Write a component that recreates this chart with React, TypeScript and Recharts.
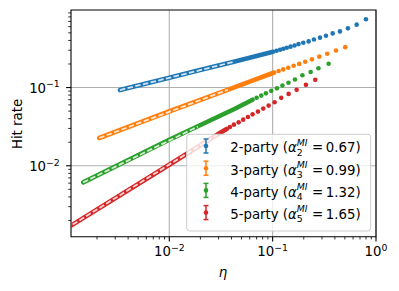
import React from 'react';
import { ComposedChart, Line, Scatter, XAxis, YAxis, CartesianGrid, ReferenceArea } from 'recharts';

const FONT = '"DejaVu Sans", sans-serif';
const FS = 13.3;
const FS_SMALL = 9.3;

const X_DOMAIN = [0.00112, 1];
const Y_DOMAIN = [0.00124, 0.98];

const X_MAJOR = [0.01, 0.1, 1];
const X_MAJOR_EXP = ['\u22122', '\u22121', '0'];
const X_MINOR = [0.002, 0.003, 0.004, 0.005, 0.006, 0.007, 0.008, 0.009, 0.02, 0.03, 0.04, 0.05, 0.06, 0.07, 0.08, 0.09, 0.2, 0.3, 0.4, 0.5, 0.6, 0.7, 0.8, 0.9];
const Y_MAJOR = [0.01, 0.1];
const Y_MAJOR_EXP = ['\u22122', '\u22121'];
const Y_MINOR = [0.002, 0.003, 0.004, 0.005, 0.006, 0.007, 0.008, 0.009, 0.02, 0.03, 0.04, 0.05, 0.06, 0.07, 0.08, 0.09, 0.2, 0.3, 0.4, 0.5, 0.6, 0.7, 0.8, 0.9];

const SERIES_NAMES = ['2-party', '3-party', '4-party', '5-party'];
const ALPHA_INDEX = ['2', '3', '4', '5'];
const ALPHA_VALUES = ['0.67', '0.99', '1.32', '1.65'];
const COLORS = ['#1f77b4', '#ff7f0e', '#2ca02c', '#d62728'];

// 2-party (blue)
const blueBandEta = [0.00333, 0.01, 0.0198, 0.0413, 0.101];
const blueBandHit = [0.0929, 0.133, 0.168, 0.212, 0.287];
const blueDotEta = [0.109, 0.118, 0.127, 0.137, 0.149, 0.163, 0.178, 0.198, 0.223, 0.251, 0.287, 0.328, 0.381, 0.448, 0.535, 0.65, 0.799];
const blueDotHit = [0.295, 0.304, 0.313, 0.323, 0.333, 0.345, 0.359, 0.374, 0.389, 0.412, 0.434, 0.46, 0.492, 0.522, 0.571, 0.637, 0.745];
const blueFitEta = [0.00333, 0.0413];
const blueFitHit = [0.0929, 0.212];

// 3-party (orange)
const orangeBandEta = [0.0021, 0.01037, 0.0413, 0.1036];
const orangeBandHit = [0.02265, 0.0505, 0.0991, 0.1557];
const orangeDotEta = [0.1143, 0.1266, 0.1416, 0.1597, 0.1809, 0.2067, 0.24, 0.2825, 0.3375, 0.41, 0.504];
const orangeDotHit = [0.1627, 0.1706, 0.1794, 0.1897, 0.2007, 0.2135, 0.2293, 0.2482, 0.2704, 0.298, 0.3286];
const orangeFitEta = [0.0021, 0.0369];
const orangeFitHit = [0.02265, 0.0937];

// 4-party (green)
const greenBandEta = [0.00147, 0.00999, 0.04317, 0.064];
const greenBandHit = [0.00614, 0.02154, 0.0535, 0.0698];
const greenDotEta = [0.07, 0.0776, 0.0861, 0.0969, 0.11, 0.1244, 0.1422, 0.1643, 0.1942, 0.2332, 0.2774, 0.348];
const greenDotHit = [0.074, 0.0789, 0.0843, 0.0907, 0.0977, 0.1061, 0.1152, 0.1266, 0.1433, 0.158, 0.1763, 0.2012];
const greenFitEta = [0.00147, 0.01893];
const greenFitHit = [0.00614, 0.0317];

// 5-party (red)
const redBandEta = [0.001, 0.01, 0.0309, 0.0359];
const redBandHit = [0.001566, 0.01031, 0.02625, 0.02955];
const redDotEta = [0.03862, 0.0422, 0.0469, 0.0519, 0.0577, 0.064, 0.0721, 0.0811, 0.0915, 0.1045, 0.1211, 0.1428, 0.1707, 0.21, 0.2584];
const redDotHit = [0.03134, 0.03354, 0.0359, 0.03889, 0.0421, 0.04546, 0.04925, 0.0538, 0.0588, 0.0648, 0.0738, 0.083, 0.0934, 0.1083, 0.1255];
const redFitEta = [0.001, 0.0289];
const redFitHit = [0.001566, 0.0248];

const zip = (xs: number[], ys: number[]) => xs.map((x, i) => ({ x, y: ys[i] }));

const SERIES = [
  { band: zip(blueBandEta, blueBandHit), dots: zip(blueDotEta, blueDotHit), fit: zip(blueFitEta, blueFitHit) },
  { band: zip(orangeBandEta, orangeBandHit), dots: zip(orangeDotEta, orangeDotHit), fit: zip(orangeFitEta, orangeFitHit) },
  { band: zip(greenBandEta, greenBandHit), dots: zip(greenDotEta, greenDotHit), fit: zip(greenFitEta, greenFitHit) },
  { band: zip(redBandEta, redBandHit), dots: zip(redDotEta, redDotHit), fit: zip(redFitEta, redFitHit) },
];

const MAJOR_LEN = 4.9;
const MINOR_LEN = 2.8;

function XTick(props: any) {
  const { x, y, payload } = props;
  const idx = X_MAJOR.indexOf(payload.value);
  const major = idx >= 0;
  return (
    <g>
      <line x1={x} x2={x} y1={y} y2={y + (major ? MAJOR_LEN : MINOR_LEN)} stroke="#000" strokeWidth={major ? 1.1 : 0.8} />
      {major && (
        <text x={x} y={y + 19.3} textAnchor="middle" fontFamily={FONT} fontSize={FS} fill="#000">
          10<tspan dy={-5} fontSize={FS_SMALL}>{X_MAJOR_EXP[idx]}</tspan>
        </text>
      )}
    </g>
  );
}

function YTick(props: any) {
  const { x, y, payload } = props;
  const idx = Y_MAJOR.indexOf(payload.value);
  const major = idx >= 0;
  return (
    <g>
      <line x1={x - (major ? MAJOR_LEN : MINOR_LEN)} x2={x} y1={y} y2={y} stroke="#000" strokeWidth={major ? 1.1 : 0.8} />
      {major && (
        <text x={x - 11.2} y={y + 5.3} textAnchor="end" fontFamily={FONT} fontSize={FS} fill="#000">
          10<tspan dy={-5.5} fontSize={FS_SMALL}>{Y_MAJOR_EXP[idx]}</tspan>
        </text>
      )}
    </g>
  );
}

const dotShape = (color: string) => (p: any) => <circle cx={p.cx} cy={p.cy} r={2.3} fill={color} />;

function LegendOverlay() {
  const boxX = 186.7, boxY = 134.3, boxW = 184, boxH = 96.7;
  return (
    <svg width={399} height={291} style={{ position: 'absolute', left: 0, top: 0, pointerEvents: 'none' }}>
      <rect x={boxX} y={boxY} width={boxW} height={boxH} rx={3} fill="#ffffff" fillOpacity={0.8} stroke="#cccccc" strokeWidth={1} />
      {SERIES_NAMES.map((name, i) => {
        const b = 152.3 + 22.2 * i;
        const cy = b - 6.3;
        const mx = 206;
        const c = COLORS[i];
        return (
          <g key={name}>
            <line x1={mx} x2={mx} y1={cy - 7} y2={cy + 7} stroke={c} strokeWidth={1.5} />
            <line x1={mx - 2.5} x2={mx + 2.5} y1={cy - 7} y2={cy - 7} stroke={c} strokeWidth={1.5} />
            <line x1={mx - 2.5} x2={mx + 2.5} y1={cy + 7} y2={cy + 7} stroke={c} strokeWidth={1.5} />
            <circle cx={mx} cy={cy} r={2.3} fill={c} />
            <text x={230.2} y={b} fontFamily={FONT} fontSize={FS} fill="#000" style={{ whiteSpace: 'pre' }}>
              {name + ' ('}
              <tspan fontStyle="italic">α</tspan>
              <tspan dy={-6.6} fontSize={FS_SMALL} fontStyle="italic">MI</tspan>
              <tspan dx={-10.8} dy={10} fontSize={FS_SMALL}>{ALPHA_INDEX[i]}</tspan>
              <tspan dx={5.2} dy={-3.4}>{' ='}</tspan>
              <tspan dx={2.6}>{ALPHA_VALUES[i] + ')'}</tspan>
            </text>
          </g>
        );
      })}
      <text x={223} y={276.5} textAnchor="middle" fontFamily={FONT} fontSize={FS} fontStyle="italic" fill="#000">η</text>
      <text transform="translate(21.7,124) rotate(-90)" x={0} y={0} textAnchor="middle" fontFamily={FONT} fontSize={FS} fill="#000">Hit rate</text>
    </svg>
  );
}

export default function App() {
  return (
    <div style={{ position: 'absolute', left: 0, top: 0, width: 399, height: 291, background: '#fff' }}>
      <ComposedChart width={399} height={291} margin={{ top: 10, right: 23, bottom: 0, left: 0 }}>
        <CartesianGrid horizontalValues={Y_MAJOR} verticalValues={X_MAJOR} stroke="#b0b0b0" strokeWidth={1.1} />
        <XAxis
          type="number"
          dataKey="x"
          scale="log"
          domain={X_DOMAIN}
          allowDataOverflow
          ticks={[...X_MINOR, ...X_MAJOR]}
          interval={0}
          tick={<XTick />}
          tickLine={false}
          axisLine={false}
          tickSize={0}
          tickMargin={0}
          height={54.3}
        />
        <YAxis
          type="number"
          dataKey="y"
          scale="log"
          domain={Y_DOMAIN}
          allowDataOverflow
          ticks={[...Y_MINOR, ...Y_MAJOR]}
          interval={0}
          tick={<YTick />}
          tickLine={false}
          axisLine={false}
          tickSize={0}
          tickMargin={0}
          width={71}
        />
        {SERIES.map((s, i) => [
          <Line
            key={'band' + i}
            data={s.band}
            dataKey="y"
            type="linear"
            stroke={COLORS[i]}
            strokeWidth={4.6}
            strokeLinecap="round"
            dot={false}
            activeDot={false}
            isAnimationActive={false}
            legendType="none"
          />,
          <Scatter
            key={'dots' + i}
            data={s.dots}
            dataKey="y"
            fill={COLORS[i]}
            shape={dotShape(COLORS[i])}
            isAnimationActive={false}
            legendType="none"
          />,
          <Line
            key={'fit' + i}
            data={s.fit}
            dataKey="y"
            type="linear"
            stroke="#ffffff"
            strokeOpacity={0.8}
            strokeWidth={1.8}
            strokeDasharray="5.5 2.4"
            dot={false}
            activeDot={false}
            isAnimationActive={false}
            legendType="none"
          />,
        ])}
        <ReferenceArea
          x1={X_DOMAIN[0]}
          x2={X_DOMAIN[1]}
          y1={Y_DOMAIN[0]}
          y2={Y_DOMAIN[1]}
          fill="none"
          stroke="#000"
          strokeWidth={1.1}
          ifOverflow="visible"
        />
      </ComposedChart>
      <LegendOverlay />
    </div>
  );
}
